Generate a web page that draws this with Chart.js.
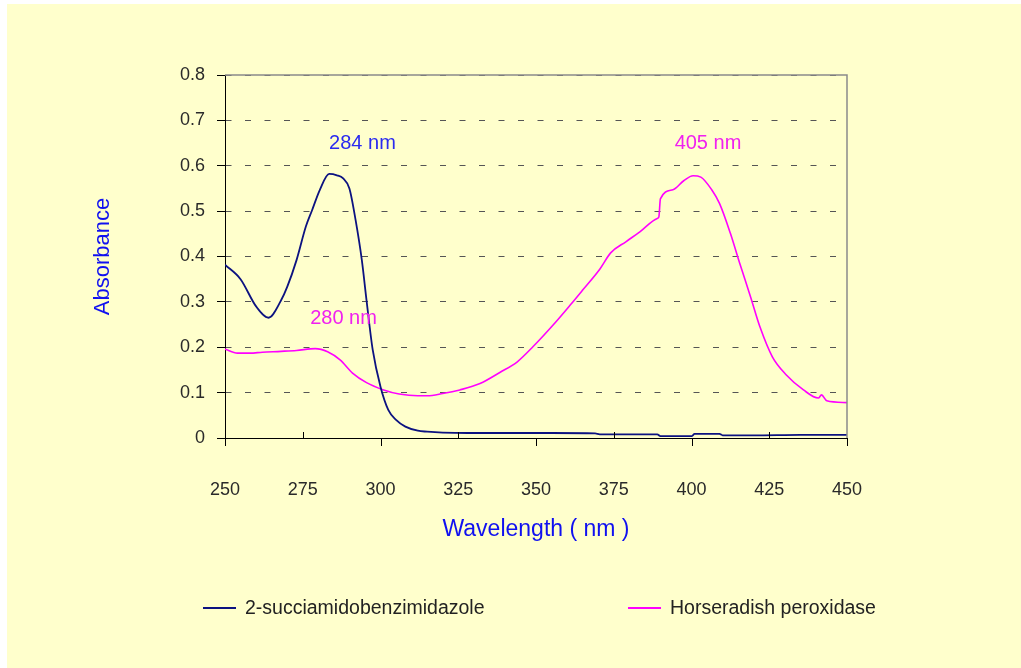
<!DOCTYPE html>
<html>
<head>
<meta charset="utf-8">
<script src="https://cdn.jsdelivr.net/npm/chart.js@4.4.0/dist/chart.umd.min.js"></script>
<style>
  html, body { margin: 0; padding: 0; background: #fff; }
  #wrap { width: 1021px; height: 668px; }
</style>
</head>
<body>
<div id="wrap"><canvas id="grafico"></canvas></div>
<script>
// datos
const seriesNames = ["2-succiamidobenzimidazole", "Horseradish peroxidase"];

const blueWl = [250, 255, 260, 264, 268, 270, 273, 276, 278, 280.5, 283.5, 286, 288, 290, 292, 294, 295.5, 297.5, 300, 302.5, 305, 308, 312, 315, 320, 328, 340, 355, 369, 370.5, 389, 390, 400, 401, 409, 410, 420, 435, 450];
const blueAbs = [0.382, 0.35, 0.29, 0.265, 0.303, 0.333, 0.392, 0.466, 0.502, 0.547, 0.582, 0.579, 0.572, 0.55, 0.48, 0.392, 0.304, 0.194, 0.113, 0.062, 0.040, 0.025, 0.016, 0.014, 0.012, 0.011, 0.011, 0.011, 0.010, 0.008, 0.008, 0.004, 0.004, 0.009, 0.009, 0.006, 0.006, 0.007, 0.007];

const pinkWl = [250, 254, 258, 262, 268, 273, 279, 283, 287, 291, 295.5, 301, 306, 312, 315, 320, 325.5, 332, 338.5, 344, 349, 355.5, 361, 365, 370.5, 374, 379, 383.5, 389, 389.5, 390, 394, 397.5, 400.5, 403, 406.5, 409, 412.5, 415.5, 419, 422, 426, 430.5, 436, 440.8, 441.8, 443.5, 450];
const pinkAbs = [0.196, 0.187, 0.187, 0.189, 0.191, 0.193, 0.197, 0.190, 0.172, 0.143, 0.122, 0.106, 0.097, 0.093, 0.093, 0.098, 0.106, 0.120, 0.145, 0.168, 0.201, 0.249, 0.293, 0.326, 0.372, 0.408, 0.433, 0.455, 0.484, 0.487, 0.527, 0.547, 0.567, 0.578, 0.575, 0.547, 0.517, 0.451, 0.385, 0.311, 0.245, 0.179, 0.139, 0.106, 0.088, 0.095, 0.082, 0.078];

const xTicks = [250, 275, 300, 325, 350, 375, 400, 425, 450];
const yTicks = [0, 0.1, 0.2, 0.3, 0.4, 0.5, 0.6, 0.7, 0.8];

// etiquetas de picos (posicion en unidades de datos)
const peakText = ["284 nm", "405 nm", "280 nm"];
const peakX = [294.2, 405.3, 288.1];
const peakY = [0.648, 0.648, 0.264];
const peakColor = ["#2b2bf0", "#f020f0", "#f020f0"];

const fondo = "#ffffcc";
const azul = "#0c1280";
const rosa = "#ff00ff";

Chart.defaults.font.family = "'Liberation Sans', Arial, sans-serif";

function puntos(xs, ys) {
  return xs.map((x, i) => ({ x: x, y: ys[i] }));
}

const fondoPlugin = {
  id: "fondo",
  beforeDraw(chart) {
    const ctx = chart.ctx;
    ctx.save();
    ctx.fillStyle = "#fff";
    ctx.fillRect(0, 0, chart.width, chart.height);
    ctx.fillStyle = fondo;
    ctx.fillRect(7, 4, chart.width - 7, chart.height - 4);
    ctx.restore();
  }
};

const extrasPlugin = {
  id: "extras",
  afterDatasetsDraw(chart) {
    const ctx = chart.ctx;
    const a = chart.chartArea;
    const xs = chart.scales.x;
    const ys = chart.scales.y;
    ctx.save();

    // marco gris arriba y derecha
    ctx.strokeStyle = "#8a8a8a";
    ctx.lineWidth = 1.5;
    ctx.beginPath();
    ctx.moveTo(a.left, a.top);
    ctx.lineTo(a.right, a.top);
    ctx.lineTo(a.right, a.bottom);
    ctx.stroke();

    // ticks del eje x alternados
    ctx.strokeStyle = "#000";
    ctx.lineWidth = 1;
    xTicks.forEach((v, i) => {
      const px = Math.round(xs.getPixelForValue(v)) + 0.5;
      ctx.beginPath();
      if (i % 2 === 0) {
        ctx.moveTo(px, a.bottom);
        ctx.lineTo(px, a.bottom + 8);
      } else {
        ctx.moveTo(px, a.bottom);
        ctx.lineTo(px, a.bottom - 6);
      }
      ctx.stroke();
    });

    // etiquetas de picos
    ctx.font = "20px 'Liberation Sans', Arial, sans-serif";
    ctx.textAlign = "center";
    ctx.textBaseline = "middle";
    peakText.forEach((t, i) => {
      ctx.fillStyle = peakColor[i];
      ctx.fillText(t, xs.getPixelForValue(peakX[i]), ys.getPixelForValue(peakY[i]));
    });

    // leyenda
    const legX = [203, 628];
    const legY = 608;
    ctx.font = "19.5px 'Liberation Sans', Arial, sans-serif";
    ctx.textAlign = "left";
    chart.data.datasets.forEach((ds, i) => {
      ctx.strokeStyle = ds.borderColor;
      ctx.lineWidth = 2;
      ctx.beginPath();
      ctx.moveTo(legX[i], legY);
      ctx.lineTo(legX[i] + 33, legY);
      ctx.stroke();
      ctx.fillStyle = "#222";
      ctx.fillText(ds.label, legX[i] + 42, legY + 1);
    });
    ctx.restore();
  }
};

new Chart(document.getElementById("grafico"), {
  type: "line",
  data: {
    datasets: [
      {
        label: seriesNames[0],
        data: puntos(blueWl, blueAbs),
        borderColor: azul,
        borderWidth: 1.8,
        pointRadius: 0,
        cubicInterpolationMode: "monotone",
        fill: false
      },
      {
        label: seriesNames[1],
        data: puntos(pinkWl, pinkAbs),
        borderColor: rosa,
        borderWidth: 1.6,
        pointRadius: 0,
        cubicInterpolationMode: "monotone",
        fill: false
      }
    ]
  },
  options: {
    responsive: true,
    maintainAspectRatio: false,
    animation: false,
    layout: { padding: { left: 90, right: 174, top: 75, bottom: 125 } },
    plugins: {
      legend: { display: false },
      tooltip: { enabled: false }
    },
    scales: {
      x: {
        type: "linear",
        min: 250,
        max: 450,
        afterBuildTicks(scale) {
          scale.ticks = xTicks.map(v => ({ value: v }));
        },
        afterFit(scale) { scale.height = 105; },
        grid: { drawOnChartArea: false, drawTicks: false },
        border: { color: "#000", width: 1 },
        ticks: {
          color: "#2a2a2a",
          font: { size: 18 },
          padding: 41,
          maxRotation: 0,
          autoSkip: false
        },
        title: {
          display: true,
          text: "Wavelength ( nm )",
          color: "#1010f0",
          font: { size: 23 },
          padding: { top: 0, bottom: 0 }
        }
      },
      y: {
        min: 0,
        max: 0.8,
        afterBuildTicks(scale) {
          scale.ticks = yTicks.map(v => ({ value: v }));
        },
        afterFit(scale) { scale.width = 135; },
        grid: {
          color: "#555",
          tickColor: "#000",
          tickBorderDash: [],
          tickLength: 8,
          lineWidth: 1
        },
        border: { color: "#000", width: 1, dash: [6, 13.5], dashOffset: 0.5 },
        ticks: {
          color: "#2a2a2a",
          font: { size: 18 },
          padding: 12,
          callback: v => (v === 0 ? "0" : v.toFixed(1))
        },
        title: {
          display: true,
          text: "Absorbance",
          color: "#1010f0",
          font: { size: 22 },
          padding: { top: 0, bottom: 0 }
        }
      }
    }
  },
  plugins: [fondoPlugin, extrasPlugin]
});
</script>
</body>
</html>
